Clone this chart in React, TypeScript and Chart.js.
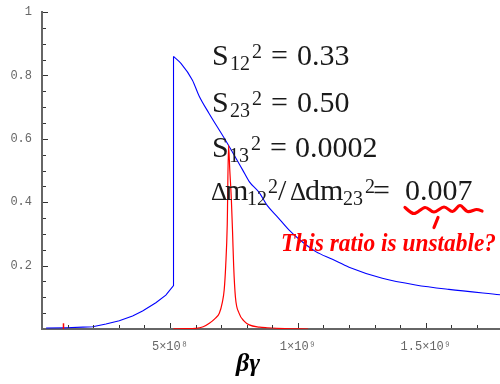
import React, { useEffect, useRef } from "react";
import { Chart, registerables } from "chart.js";

Chart.register(...registerables);

// ---- data ----
const X_MIN = 0;
const X_MAX = 1.79e9;
const Y_MIN = 0;
const Y_MAX = 1;
const X_TICKS = [5e8, 1e9, 1.5e9];
const X_TICK_LABELS = ["5×10⁸", "1×10⁹", "1.5×10⁹"];
const Y_TICKS = [0.2, 0.4, 0.6, 0.8, 1];
const Y_TICK_LABELS = ["0.2", "0.4", "0.6", "0.8", "1"];
const X_MINOR_STEP = 1e8;
const Y_MINOR_STEP = 0.05;

// blue curve: slow rise, then vertical jump
const BLUE_RISE_X = [
  1.6e7, 0.94e8, 1.6e8, 1.98e8, 2.5e8, 3.02e8, 3.54e8, 3.93e8, 4.45e8,
  4.84e8, 5.14e8, 5.14e8,
];
const BLUE_RISE_Y = [
  0.003, 0.004, 0.006, 0.007, 0.016, 0.026, 0.041, 0.057, 0.083,
  0.107, 0.137, 0.86,
];
// blue curve: decay after the jump
const BLUE_FALL_X = [
  5.14e8, 5.43e8, 5.88e8, 6.14e8, 6.53e8, 7.19e8, 7.84e8, 8.1e8, 8.49e8,
  8.8e8, 9.2e8, 9.66e8, 1.005e9, 1.07e9, 1.135e9, 1.2e9, 1.33e9, 1.46e9,
  1.59e9, 1.79e9,
];
const BLUE_FALL_Y = [
  0.86, 0.838, 0.785, 0.735, 0.68, 0.593, 0.502, 0.465, 0.43,
  0.39, 0.354, 0.312, 0.283, 0.244, 0.22, 0.195, 0.16, 0.139,
  0.125, 0.108,
];

// red: tiny spike near the origin and the main resonance peak
const RED_SPIKE_X = [8.4e7, 8.4e7];
const RED_SPIKE_Y = [0, 0.018];
const RED_X = [
  5.14e8, 5.6e8, 6.0e8, 6.3e8, 6.54e8, 6.75e8, 6.93e8, 7.05e8, 7.12e8, 7.18e8,
  7.24e8, 7.29e8, 7.34e8, 7.4e8, 7.45e8, 7.49e8, 7.56e8, 7.7e8, 7.9e8, 8.1e8,
  8.5e8, 8.8e8, 9.5e8, 1.04e9,
];
const RED_Y = [
  0.0005, 0.001, 0.002, 0.007, 0.018, 0.032, 0.05, 0.085, 0.123, 0.2,
  0.33, 0.58, 0.5, 0.41, 0.3, 0.2, 0.1, 0.05, 0.025, 0.013,
  0.006, 0.004, 0.001, 0,
];

const X_TITLE = "βγ";
const NOTE = "This ratio is unstable?";

// formula annotation: [text, x, baseline offset, font size]
const FORMULA_LINES: { base: number; parts: [string, number, number, number][] }[] = [
  { base: 65, parts: [["S", 212, 0, 30], ["12", 230, 5, 20], ["2", 252, -7, 20], ["=", 271, 0, 30], ["0.33", 297, 0, 30]] },
  { base: 111.5, parts: [["S", 212, 0, 30], ["23", 230, 5, 20], ["2", 252, -7, 20], ["=", 271, 0, 30], ["0.50", 297, 0, 30]] },
  { base: 157, parts: [["S", 212, 0, 30], ["13", 229, 5, 20], ["2", 251, -7, 20], ["=", 270, 0, 30], ["0.0002", 295, 0, 30]] },
  {
    base: 200,
    parts: [
      ["Δ", 211, 0, 25], ["m", 225, 0, 30], ["12", 247, 5, 20], ["2", 268, -7, 20],
      ["/", 278, 0, 30], ["Δ", 290, 0, 25], ["dm", 305, 0, 30], ["23", 343, 5, 20],
      ["2", 365, -7, 20], ["=", 373, 0, 30], ["0.007", 405, 0, 30],
    ],
  },
];

const SQUIGGLE: [number, number][] = [
  [405, 207.5], [414, 213.5], [425, 207.5], [434, 212], [444, 207],
  [452.5, 211.5], [460, 205.5], [467.5, 211.5], [476.5, 209.5], [482, 211],
];

const decorPlugin = {
  id: "decor",
  afterDraw(chart: any) {
    const { ctx, chartArea } = chart;
    const xs = chart.scales.x;
    const ys = chart.scales.y;
    ctx.save();
    // inward tick marks
    ctx.strokeStyle = "#333";
    ctx.lineWidth = 1;
    ctx.beginPath();
    const nx = Math.floor(X_MAX / X_MINOR_STEP + 1e-9);
    for (let k = 1; k <= nx; k++) {
      const v = k * X_MINOR_STEP;
      const major = X_TICKS.some((t) => Math.abs(t - v) < 1);
      const px = Math.round(xs.getPixelForValue(v)) + 0.5;
      ctx.moveTo(px, chartArea.bottom - 1);
      ctx.lineTo(px, chartArea.bottom - 1 - (major ? 5 : 3));
    }
    const ny = Math.round(Y_MAX / Y_MINOR_STEP);
    for (let k = 1; k <= ny; k++) {
      const v = k * Y_MINOR_STEP;
      const major = Y_TICKS.some((t) => Math.abs(t - v) < 1e-9);
      const py = Math.round(ys.getPixelForValue(v)) + 0.5;
      ctx.moveTo(chartArea.left + 1, py);
      ctx.lineTo(chartArea.left + 1 + (major ? 5 : 3), py);
    }
    ctx.stroke();

    // formula text
    ctx.fillStyle = "#1a1a1a";
    ctx.textBaseline = "alphabetic";
    ctx.textAlign = "left";
    for (const line of FORMULA_LINES) {
      for (const [t, x, dy, s] of line.parts) {
        ctx.font = `${s}px 'Liberation Serif', serif`;
        ctx.fillText(t, x, line.base + dy);
      }
    }

    // red squiggle under the ratio (Catmull-Rom through the points)
    ctx.strokeStyle = "#ff0000";
    ctx.lineWidth = 3.2;
    ctx.lineCap = "round";
    ctx.lineJoin = "round";
    ctx.beginPath();
    ctx.moveTo(SQUIGGLE[0][0], SQUIGGLE[0][1]);
    for (let i = 0; i < SQUIGGLE.length - 1; i++) {
      const p0 = SQUIGGLE[Math.max(0, i - 1)];
      const p1 = SQUIGGLE[i];
      const p2 = SQUIGGLE[i + 1];
      const p3 = SQUIGGLE[Math.min(SQUIGGLE.length - 1, i + 2)];
      ctx.bezierCurveTo(
        p1[0] + (p2[0] - p0[0]) / 6, p1[1] + (p2[1] - p0[1]) / 6,
        p2[0] - (p3[0] - p1[0]) / 6, p2[1] - (p3[1] - p1[1]) / 6,
        p2[0], p2[1]
      );
    }
    ctx.stroke();
    ctx.beginPath();
    ctx.moveTo(438, 217.5);
    ctx.lineTo(434, 227.5);
    ctx.stroke();

    // handwritten note
    ctx.fillStyle = "#ff0000";
    ctx.font = "bold italic 25px 'Liberation Serif', serif";
    const w = ctx.measureText(NOTE).width;
    const target = 215;
    ctx.save();
    ctx.translate(281, 251);
    ctx.scale(target / w, 1);
    ctx.fillText(NOTE, 0, 0);
    ctx.restore();

    // x axis title
    ctx.fillStyle = "#000";
    ctx.font = "bold italic 26px 'Liberation Serif', serif";
    ctx.textAlign = "center";
    ctx.fillText(X_TITLE, 248, 371);
    ctx.restore();
  },
};

export default function App() {
  const ref = useRef<HTMLCanvasElement | null>(null);
  useEffect(() => {
    if (!ref.current) return;
    const toPts = (xs: number[], ys: number[]) => xs.map((x, i) => ({ x, y: ys[i] }));
    const chart = new Chart(ref.current, {
      type: "line",
      data: {
        datasets: [
          {
            data: toPts(BLUE_RISE_X, BLUE_RISE_Y) as any,
            borderColor: "#0000ff",
            borderWidth: 1.1,
            pointRadius: 0,
            fill: false,
            tension: 0,
            order: 2,
          },
          {
            data: toPts(BLUE_FALL_X, BLUE_FALL_Y) as any,
            borderColor: "#0000ff",
            borderWidth: 1.1,
            pointRadius: 0,
            fill: false,
            cubicInterpolationMode: "monotone",
            order: 2,
          },
          {
            data: toPts(RED_SPIKE_X, RED_SPIKE_Y) as any,
            borderColor: "#ff0000",
            borderWidth: 1.5,
            pointRadius: 0,
            fill: false,
            tension: 0,
            order: 1,
          },
          {
            data: toPts(RED_X, RED_Y) as any,
            borderColor: "#ff0000",
            borderWidth: 1.2,
            pointRadius: 0,
            fill: false,
            cubicInterpolationMode: "monotone",
            order: 1,
          },
        ],
      },
      options: {
        animation: false,
        responsive: false,
        maintainAspectRatio: false,
        layout: { padding: { top: 12, right: 0, left: 0, bottom: 0 } },
        plugins: { legend: { display: false }, tooltip: { enabled: false } },
        scales: {
          x: {
            type: "linear",
            min: X_MIN,
            max: X_MAX,
            afterBuildTicks: (s: any) => {
              s.ticks = X_TICKS.map((v) => ({ value: v }));
            },
            afterFit: (s: any) => {
              s.height = 55;
              s.paddingLeft = 0;
              s.paddingRight = 0;
            },
            ticks: {
              autoSkip: false,
              maxRotation: 0,
              padding: 11,
              color: "#666",
              font: { family: "'Liberation Mono', monospace", size: 12 },
              callback: (v: any) => {
                const i = X_TICKS.indexOf(Number(v));
                return i >= 0 ? X_TICK_LABELS[i] : "";
              },
            },
            grid: { display: false, drawTicks: false, tickLength: 0 },
            border: { display: true, color: "#666", width: 2 },
          },
          y: {
            type: "linear",
            min: Y_MIN,
            max: Y_MAX,
            afterBuildTicks: (s: any) => {
              s.ticks = Y_TICKS.map((v) => ({ value: v }));
            },
            afterFit: (s: any) => {
              s.width = 42;
              s.paddingTop = 0;
              s.paddingBottom = 0;
            },
            ticks: {
              autoSkip: false,
              padding: 10,
              color: "#666",
              font: { family: "'Liberation Mono', monospace", size: 12 },
              callback: (v: any) => {
                const i = Y_TICKS.findIndex((t) => Math.abs(t - Number(v)) < 1e-9);
                return i >= 0 ? Y_TICK_LABELS[i] : "";
              },
            },
            grid: { display: false, drawTicks: false, tickLength: 0 },
            border: { display: true, color: "#666", width: 2 },
          },
        },
      },
      plugins: [decorPlugin],
    });
    return () => chart.destroy();
  }, []);
  return (
    <div style={{ position: "fixed", left: 0, top: 0, width: 500, height: 384, background: "#fff" }}>
      <canvas ref={ref} width={500} height={384} style={{ display: "block" }} />
    </div>
  );
}
